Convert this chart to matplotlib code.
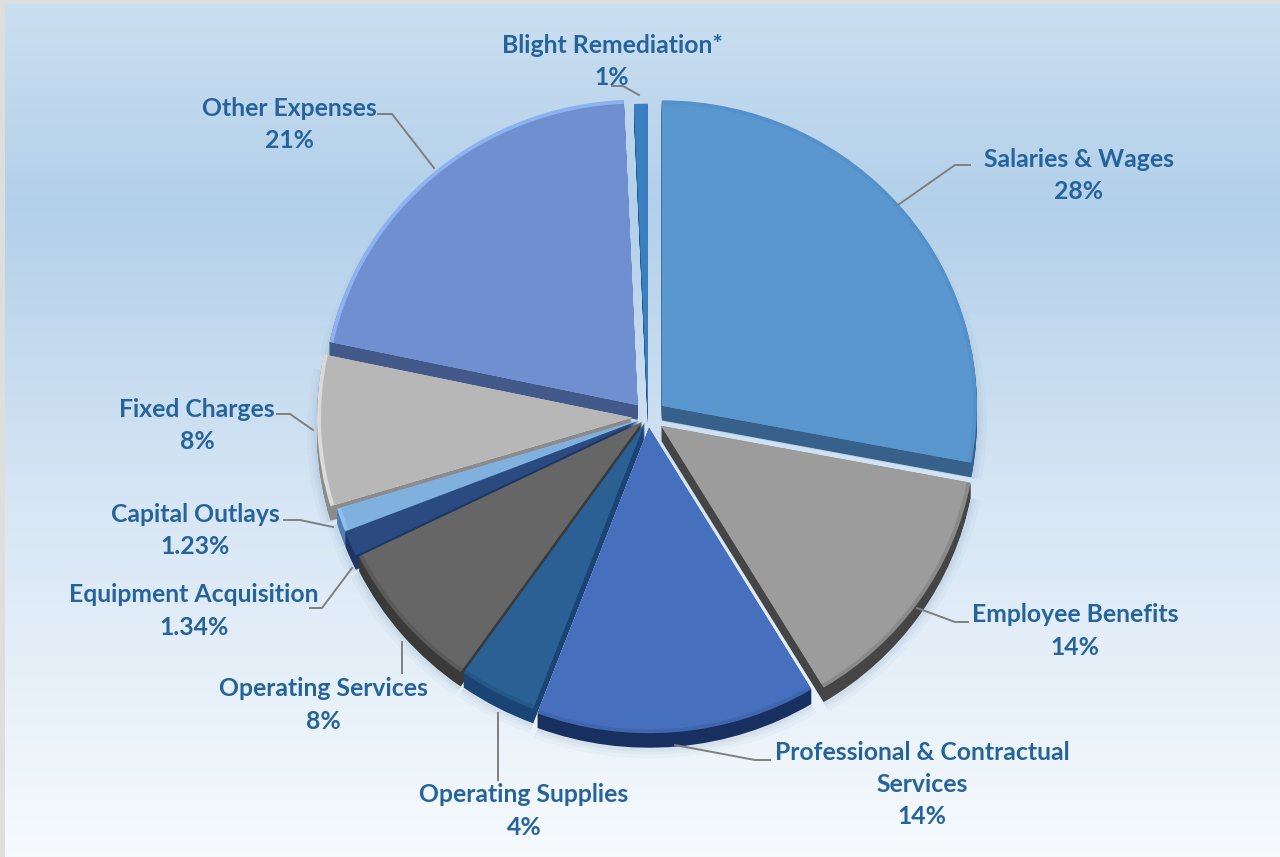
import numpy as np
import matplotlib
matplotlib.use('Agg')
import matplotlib.pyplot as plt
from matplotlib.colors import LinearSegmentedColormap

plt.rcParams['font.family'] = ['Lato', 'DejaVu Sans']

categories = ['Salaries & Wages', 'Employee Benefits', 'Professional & Contractual\nServices',
              'Operating Supplies', 'Operating Services', 'Equipment Acquisition',
              'Capital Outlays', 'Fixed Charges', 'Other Expenses', 'Blight Remediation*']
values = [28, 13.4, 14.4, 4, 8, 1.34, 1.23, 8, 21, 0.7]
pct_labels = ['28%', '14%', '14%', '4%', '8%', '1.34%', '1.23%', '8%', '21%', '1%']

top_colors = ['#5B97CF', '#9C9C9C', '#4670BE', '#2A6094', '#666666',
              '#2B4A80', '#7FB0DE', '#B7B7B7', '#708FD0', '#3A80C0']
rim_colors = ['#5490CA', '#8A8A8A', '#3F66AE', '#25588A', '#5A5A5A',
              '#2B4A80', '#8FC0EC', '#DADADA', '#8DB2F0', '#3A80C0']
side_colors = ['#37608A', '#454545', '#17305F', '#1A4474', '#3A3A3A',
               '#1E3866', '#4E7DAE', '#8B8B8B', '#43598A', '#27588A']
explode = [18, 16, 11, 7, 8, 10, 10, 16, 16, 8]

H = 857
fig = plt.figure(figsize=(12.8, 8.57), dpi=100)

# background gradient
bg = fig.add_axes([0, 0, 1, 1], zorder=0)
cmap = LinearSegmentedColormap.from_list('bg', [(0, '#F6FAFD'), (0.4, '#D8E7F5'),
                                                (0.76, '#B3D0EA'), (1, '#CBDFF1')])
bg.imshow(np.linspace(0, 1, 256).reshape(-1, 1), cmap=cmap, origin='lower', aspect='auto',
          extent=[0, 1280, 0, H])
bg.axis('off')

# pie axes: the pie is seen slightly tilted, so y is squashed
squash = 0.97
cy = 417
pie_ax = fig.add_axes([0, 0, 1, 1], zorder=1)
pie_ax.patch.set_alpha(0)
center = (648, 0)
radius = 315


def draw_pie(colors, r=radius, dy=0, **props):
    pie_ax.pie(values, explode=explode, colors=colors, startangle=90, counterclock=False,
               center=(center[0], center[1] - dy), radius=r, frame=True,
               wedgeprops={'linewidth': 0, **props})


# soft shadow
for grow, a in [(10, 0.03), (6, 0.04), (3, 0.05)]:
    draw_pie(['#2F5F8F'] * 10, r=radius + grow, dy=16, alpha=a)
# extruded sides
for d in range(15, 0, -1):
    draw_pie(side_colors, dy=d)
# top face, with a rim
draw_pie(rim_colors)
draw_pie(top_colors, r=radius - 4)

pie_ax.set_aspect('auto')
pie_ax.set_xlim(0, 1280)
pie_ax.set_ylim(-(H - cy) / squash, cy / squash)
pie_ax.axis('off')

# labels and leaders, in image pixels
ax = fig.add_axes([0, 0, 1, 1], zorder=2)
ax.patch.set_alpha(0)
ax.set_xlim(0, 1280)
ax.set_ylim(H, 0)
ax.axis('off')

leaders = [[(970, 165), (955, 165), (898, 205)],
           [(968, 622), (955, 622), (917, 608)],
           [(770, 760), (755, 760), (675, 745)],
           [(498, 780), (498, 713)],
           [(402, 673), (402, 642)],
           [(310, 608), (322, 608), (352, 568)],
           [(284, 520), (300, 520), (333, 527)],
           [(277, 414), (290, 414), (313, 430)],
           [(378, 114), (392, 114), (434, 168)],
           [(612, 86), (623, 86), (639, 95)]]
for pts in leaders:
    ax.plot([p[0] for p in pts], [p[1] for p in pts], color='#7F7F7F', lw=1.4)

label_pos = [(1079, 159), (1075, 615), (922, 752), (524, 795), (323, 689),
             (194, 595), (195, 514), (197, 409), (289, 108), (612, 45)]
for name, pct, (x, y) in zip(categories, pct_labels, label_pos):
    for i, line in enumerate(name.split('\n') + [pct]):
        ax.text(x, y + i * 32.5, line, ha='center', va='center', fontsize=17.8,
                fontweight='bold', color='#25639B')

# thin frame on the left and top
ax.plot([2, 2], [0, H], color='#E0DEDC', lw=3.5)
ax.plot([0, 1280], [1, 1], color='#E0DEDC', lw=2.5)

fig.savefig('out.png', dpi=100)
